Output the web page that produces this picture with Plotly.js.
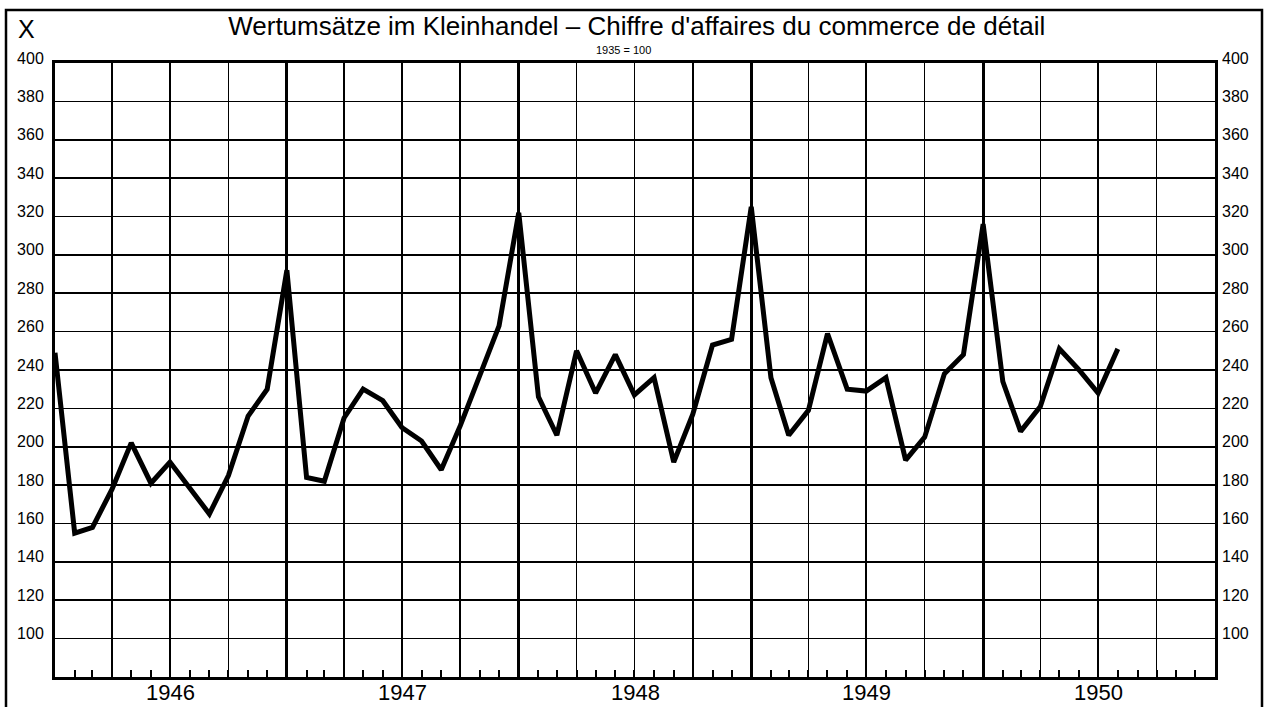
<!DOCTYPE html>
<html>
<head>
<meta charset="utf-8">
<script src="https://cdn.plot.ly/plotly-3.0.1.min.js"></script>
<style>
html,body{margin:0;padding:0;background:#fff;}
#chart{width:1271px;height:707px;}
</style>
</head>
<body>
<div id="chart"></div>
<script>
// Monthly index values (1935 = 100), each plotted at the end of its month
const startMonth = '1945-12';
const vals1945 = [249];
const vals1946 = [155, 158, 178, 202, 181, 192, 178, 165, 185, 216, 230, 292];
const vals1947 = [184, 182, 215, 230, 224, 210, 203, 188, 211, 238, 263, 322];
const vals1948 = [226, 206, 250, 228, 248, 227, 236, 192, 217, 253, 256, 325];
const vals1949 = [236, 206, 219, 259, 230, 229, 236, 193, 205, 238, 248, 316];
const vals1950 = [234, 208, 221, 251, 240, 228, 251];

const yearLabels = ['1946', '1947', '1948', '1949', '1950'];
const yTickVals = [100, 120, 140, 160, 180, 200, 220, 240, 260, 280, 300, 320, 340, 360, 380, 400];
const titleText = 'Wertumsätze im Kleinhandel – Chiffre d\'affaires du commerce de détail';
const subtitleText = '1935 = 100';
const cornerLabel = 'X';

const values = [].concat(vals1945, vals1946, vals1947, vals1948, vals1949, vals1950);
const months = [];
{
  let y = parseInt(startMonth.slice(0, 4), 10), m = parseInt(startMonth.slice(5, 7), 10);
  for (let i = 0; i < values.length; i++) {
    months.push(y + '-' + String(m).padStart(2, '0'));
    m++; if (m > 12) { m = 1; y++; }
  }
}

const FONT = 'Liberation Sans, Arial, sans-serif';
const xRange = ['1946-01-01', '1951-01-01'];
const yRange = [80, 400];

const traces = [
  {
    x: months, y: values, type: 'scatter', mode: 'lines',
    xperiod: 'M1', xperiodalignment: 'end',
    line: {color: '#000', width: 5, shape: 'linear'},
    hoverinfo: 'skip', xaxis: 'x', yaxis: 'y'
  },
  {
    x: months, y: values, type: 'scatter', mode: 'lines',
    xperiod: 'M1', xperiodalignment: 'end',
    line: {color: 'rgba(0,0,0,0)', width: 0},
    opacity: 0, hoverinfo: 'skip', showlegend: false, xaxis: 'x2', yaxis: 'y2'
  }
];

const annotations = [
  {
    text: subtitleText, xref: 'paper', yref: 'paper',
    x: (623 - 55) / 1160, y: 1 + (63 - 50) / 614, xanchor: 'center', yanchor: 'middle',
    showarrow: false, font: {family: FONT, size: 11, color: '#000'}
  },
  {
    text: cornerLabel, xref: 'paper', yref: 'paper',
    x: (26 - 55) / 1160, y: 1 + (63 - 29) / 614, xanchor: 'center', yanchor: 'middle',
    showarrow: false, font: {family: FONT, size: 25, color: '#000'}
  }
];
yearLabels.forEach(function (yr) {
  annotations.push({
    text: yr, xref: 'x', yref: 'paper',
    x: yr + '-07-02', y: (677 - 692) / 614, xanchor: 'center', yanchor: 'middle',
    showarrow: false, font: {family: FONT, size: 22, color: '#000'}
  });
});

const layout = {
  width: 1271, height: 707,
  margin: {l: 55, r: 56, t: 63, b: 30},
  paper_bgcolor: '#fff', plot_bgcolor: '#fff',
  showlegend: false,
  font: {family: FONT, color: '#000'},
  title: {
    text: titleText,
    font: {family: FONT, size: 26, color: '#000'},
    x: 0.501, xanchor: 'center', xref: 'container',
    y: 1 - 26 / 707, yanchor: 'middle', yref: 'container'
  },
  xaxis: {
    type: 'date', range: xRange, fixedrange: true,
    dtick: 'M12', tick0: '1946-01-01',
    ticks: '', showticklabels: false,
    showgrid: true, gridcolor: '#000', gridwidth: 3,
    minor: {dtick: 'M3', tick0: '1946-01-01', showgrid: true, gridcolor: '#000', gridwidth: 1.6, ticks: ''},
    showline: true, linecolor: '#000', linewidth: 3, mirror: true,
    zeroline: false
  },
  xaxis2: {
    type: 'date', range: xRange, fixedrange: true, overlaying: 'x', anchor: 'y', side: 'bottom',
    dtick: 'M1', tick0: '1946-01-01', ticks: 'inside', ticklen: 7, tickwidth: 2, tickcolor: '#000',
    showticklabels: false, showgrid: false, showline: false, zeroline: false
  },
  yaxis: {
    range: yRange, fixedrange: true,
    tickmode: 'array', tickvals: yTickVals, ticks: '',
    ticklabelstandoff: 5, ticklabelshift: -5,
    tickfont: {family: FONT, size: 16, color: '#000'},
    showgrid: true, gridcolor: '#000', gridwidth: 1.6,
    showline: true, linecolor: '#000', linewidth: 3, mirror: true,
    zeroline: false
  },
  yaxis2: {
    range: yRange, fixedrange: true, overlaying: 'y', side: 'right', anchor: 'x',
    tickmode: 'array', tickvals: yTickVals, ticks: '',
    ticklabelstandoff: 6, ticklabelshift: -5,
    tickfont: {family: FONT, size: 16, color: '#000'},
    showgrid: false, showline: false, zeroline: false
  },
  annotations: annotations,
  shapes: [
    {
      type: 'rect', xref: 'paper', yref: 'paper',
      x0: (6 - 55) / 1160, x1: (1262 - 55) / 1160,
      y0: (677 - 720) / 614, y1: 1 + (63 - 10) / 614,
      line: {color: '#000', width: 2.5}, fillcolor: 'rgba(0,0,0,0)', layer: 'below'
    }
  ]
};

Plotly.newPlot('chart', traces, layout, {displayModeBar: false, staticPlot: true});
</script>
</body>
</html>
